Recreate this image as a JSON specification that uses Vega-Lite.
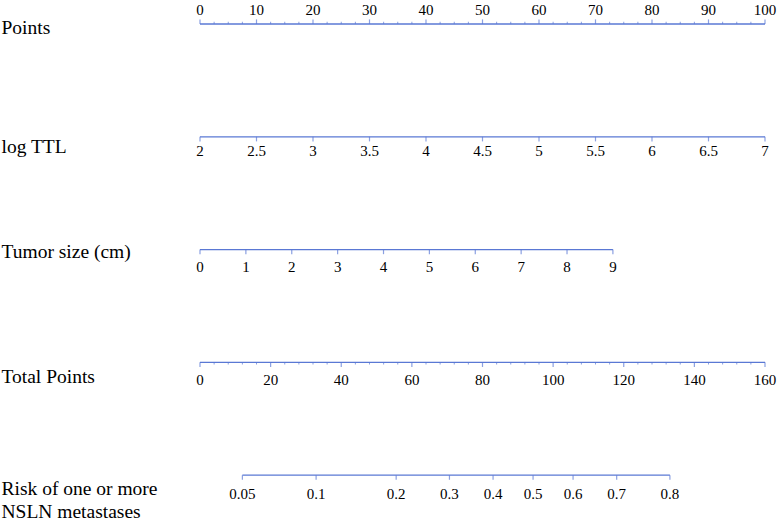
{
  "$schema": "https://vega.github.io/schema/vega-lite/v6.json",
  "width": 565,
  "height": 485,
  "autosize": {"type": "none"},
  "padding": {"left": 200, "right": 12, "top": 24, "bottom": 15},
  "background": "white",
  "config": {"view": {"stroke": null}, "font": "Liberation Serif"},
  "datasets": {
    "ticks": [
      {"row": 0, "pts": 0, "label": "0", "major": true},
      {"row": 0, "pts": 10, "label": "10", "major": true},
      {"row": 0, "pts": 20, "label": "20", "major": true},
      {"row": 0, "pts": 30, "label": "30", "major": true},
      {"row": 0, "pts": 40, "label": "40", "major": true},
      {"row": 0, "pts": 50, "label": "50", "major": true},
      {"row": 0, "pts": 60, "label": "60", "major": true},
      {"row": 0, "pts": 70, "label": "70", "major": true},
      {"row": 0, "pts": 80, "label": "80", "major": true},
      {"row": 0, "pts": 90, "label": "90", "major": true},
      {"row": 0, "pts": 100, "label": "100", "major": true},
      {"row": 0, "pts": 2.5, "label": "", "major": false},
      {"row": 0, "pts": 5, "label": "", "major": false},
      {"row": 0, "pts": 7.5, "label": "", "major": false},
      {"row": 0, "pts": 12.5, "label": "", "major": false},
      {"row": 0, "pts": 15, "label": "", "major": false},
      {"row": 0, "pts": 17.5, "label": "", "major": false},
      {"row": 0, "pts": 22.5, "label": "", "major": false},
      {"row": 0, "pts": 25, "label": "", "major": false},
      {"row": 0, "pts": 27.5, "label": "", "major": false},
      {"row": 0, "pts": 32.5, "label": "", "major": false},
      {"row": 0, "pts": 35, "label": "", "major": false},
      {"row": 0, "pts": 37.5, "label": "", "major": false},
      {"row": 0, "pts": 42.5, "label": "", "major": false},
      {"row": 0, "pts": 45, "label": "", "major": false},
      {"row": 0, "pts": 47.5, "label": "", "major": false},
      {"row": 0, "pts": 52.5, "label": "", "major": false},
      {"row": 0, "pts": 55, "label": "", "major": false},
      {"row": 0, "pts": 57.5, "label": "", "major": false},
      {"row": 0, "pts": 62.5, "label": "", "major": false},
      {"row": 0, "pts": 65, "label": "", "major": false},
      {"row": 0, "pts": 67.5, "label": "", "major": false},
      {"row": 0, "pts": 72.5, "label": "", "major": false},
      {"row": 0, "pts": 75, "label": "", "major": false},
      {"row": 0, "pts": 77.5, "label": "", "major": false},
      {"row": 0, "pts": 82.5, "label": "", "major": false},
      {"row": 0, "pts": 85, "label": "", "major": false},
      {"row": 0, "pts": 87.5, "label": "", "major": false},
      {"row": 0, "pts": 92.5, "label": "", "major": false},
      {"row": 0, "pts": 95, "label": "", "major": false},
      {"row": 0, "pts": 97.5, "label": "", "major": false},
      {"row": 1, "pts": 0, "label": "2", "major": true},
      {"row": 1, "pts": 10, "label": "2.5", "major": true},
      {"row": 1, "pts": 20, "label": "3", "major": true},
      {"row": 1, "pts": 30, "label": "3.5", "major": true},
      {"row": 1, "pts": 40, "label": "4", "major": true},
      {"row": 1, "pts": 50, "label": "4.5", "major": true},
      {"row": 1, "pts": 60, "label": "5", "major": true},
      {"row": 1, "pts": 70, "label": "5.5", "major": true},
      {"row": 1, "pts": 80, "label": "6", "major": true},
      {"row": 1, "pts": 90, "label": "6.5", "major": true},
      {"row": 1, "pts": 100, "label": "7", "major": true},
      {"row": 2, "pts": 0, "label": "0", "major": true},
      {"row": 2, "pts": 8.12, "label": "1", "major": true},
      {"row": 2, "pts": 16.24, "label": "2", "major": true},
      {"row": 2, "pts": 24.36, "label": "3", "major": true},
      {"row": 2, "pts": 32.48, "label": "4", "major": true},
      {"row": 2, "pts": 40.6, "label": "5", "major": true},
      {"row": 2, "pts": 48.72, "label": "6", "major": true},
      {"row": 2, "pts": 56.84, "label": "7", "major": true},
      {"row": 2, "pts": 64.96, "label": "8", "major": true},
      {"row": 2, "pts": 73.08, "label": "9", "major": true},
      {"row": 3, "pts": 0, "label": "0", "major": true},
      {"row": 3, "pts": 12.5, "label": "20", "major": true},
      {"row": 3, "pts": 25, "label": "40", "major": true},
      {"row": 3, "pts": 37.5, "label": "60", "major": true},
      {"row": 3, "pts": 50, "label": "80", "major": true},
      {"row": 3, "pts": 62.5, "label": "100", "major": true},
      {"row": 3, "pts": 75, "label": "120", "major": true},
      {"row": 3, "pts": 87.5, "label": "140", "major": true},
      {"row": 3, "pts": 100, "label": "160", "major": true},
      {"row": 3, "pts": 2.5, "label": "", "major": false},
      {"row": 3, "pts": 5, "label": "", "major": false},
      {"row": 3, "pts": 7.5, "label": "", "major": false},
      {"row": 3, "pts": 10, "label": "", "major": false},
      {"row": 3, "pts": 15, "label": "", "major": false},
      {"row": 3, "pts": 17.5, "label": "", "major": false},
      {"row": 3, "pts": 20, "label": "", "major": false},
      {"row": 3, "pts": 22.5, "label": "", "major": false},
      {"row": 3, "pts": 27.5, "label": "", "major": false},
      {"row": 3, "pts": 30, "label": "", "major": false},
      {"row": 3, "pts": 32.5, "label": "", "major": false},
      {"row": 3, "pts": 35, "label": "", "major": false},
      {"row": 3, "pts": 40, "label": "", "major": false},
      {"row": 3, "pts": 42.5, "label": "", "major": false},
      {"row": 3, "pts": 45, "label": "", "major": false},
      {"row": 3, "pts": 47.5, "label": "", "major": false},
      {"row": 3, "pts": 52.5, "label": "", "major": false},
      {"row": 3, "pts": 55, "label": "", "major": false},
      {"row": 3, "pts": 57.5, "label": "", "major": false},
      {"row": 3, "pts": 60, "label": "", "major": false},
      {"row": 3, "pts": 65, "label": "", "major": false},
      {"row": 3, "pts": 67.5, "label": "", "major": false},
      {"row": 3, "pts": 70, "label": "", "major": false},
      {"row": 3, "pts": 72.5, "label": "", "major": false},
      {"row": 3, "pts": 77.5, "label": "", "major": false},
      {"row": 3, "pts": 80, "label": "", "major": false},
      {"row": 3, "pts": 82.5, "label": "", "major": false},
      {"row": 3, "pts": 85, "label": "", "major": false},
      {"row": 3, "pts": 90, "label": "", "major": false},
      {"row": 3, "pts": 92.5, "label": "", "major": false},
      {"row": 3, "pts": 95, "label": "", "major": false},
      {"row": 3, "pts": 97.5, "label": "", "major": false},
      {"row": 4, "pts": 7.5, "label": "0.05", "major": true},
      {"row": 4, "pts": 20.55, "label": "0.1", "major": true},
      {"row": 4, "pts": 34.72, "label": "0.2", "major": true},
      {"row": 4, "pts": 44.15, "label": "0.3", "major": true},
      {"row": 4, "pts": 51.87, "label": "0.4", "major": true},
      {"row": 4, "pts": 58.95, "label": "0.5", "major": true},
      {"row": 4, "pts": 66.03, "label": "0.6", "major": true},
      {"row": 4, "pts": 73.75, "label": "0.7", "major": true},
      {"row": 4, "pts": 83.17, "label": "0.8", "major": true}
    ]
  },
  "data": {"name": "ticks"},
  "encoding": {
    "y": {
      "field": "row",
      "type": "quantitative",
      "scale": {"domain": [0, 4.3], "reverse": true, "nice": false, "zero": false},
      "axis": {
        "title": null,
        "domain": false,
        "ticks": false,
        "tickSize": 0,
        "grid": false,
        "values": [0.035, 1.085, 2.017, 3.121, 4.12],
        "labelExpr": "datum.value < 0.5 ? 'Points' : datum.value < 1.5 ? 'log TTL' : datum.value < 2.5 ? 'Tumor size (cm)' : datum.value < 3.5 ? 'Total Points' : ['Risk of one or more', 'NSLN metastases']",
        "labelAlign": "left",
        "labelBaseline": "middle",
        "labelPadding": 199,
        "labelLimit": 300,
        "labelFont": "Liberation Serif",
        "labelFontSize": 19.5,
        "labelColor": "black",
        "labelLineHeight": 23,
        "labelOverlap": false
      }
    }
  },
  "layer": [
    {
      "mark": {"type": "rule", "color": "#5a78d4", "strokeWidth": 1.3},
      "encoding": {
        "x": {"aggregate": "min", "field": "pts", "type": "quantitative", "scale": {"domain": [0, 100], "nice": false, "zero": false}, "axis": null},
        "x2": {"aggregate": "max", "field": "pts"}
      }
    },
    {
      "transform": [{"filter": "datum.major"}],
      "mark": {"type": "tick", "orient": "vertical", "color": "#5a78d4", "size": 4.6, "thickness": 1.2, "yOffset": {"expr": "datum.row == 0 ? -2.3 : 2.3"}},
      "encoding": {
        "x": {"field": "pts", "type": "quantitative"}
      }
    },
    {
      "transform": [{"filter": "!datum.major"}],
      "mark": {"type": "tick", "orient": "vertical", "color": "#5a78d4", "size": 2.2, "thickness": 1, "yOffset": {"expr": "datum.row == 0 ? -1.1 : 1.1"}},
      "encoding": {
        "x": {"field": "pts", "type": "quantitative"}
      }
    },
    {
      "transform": [{"filter": "datum.major"}],
      "mark": {"type": "text", "font": "Liberation Serif", "fontSize": 15, "color": "black", "baseline": "middle", "align": "center", "dy": {"expr": "datum.row == 0 ? -14.5 : datum.row == 1 ? 14 : datum.row == 4 ? 19 : 17.8"}},
      "encoding": {
        "x": {"field": "pts", "type": "quantitative"},
        "text": {"field": "label"}
      }
    }
  ]
}
